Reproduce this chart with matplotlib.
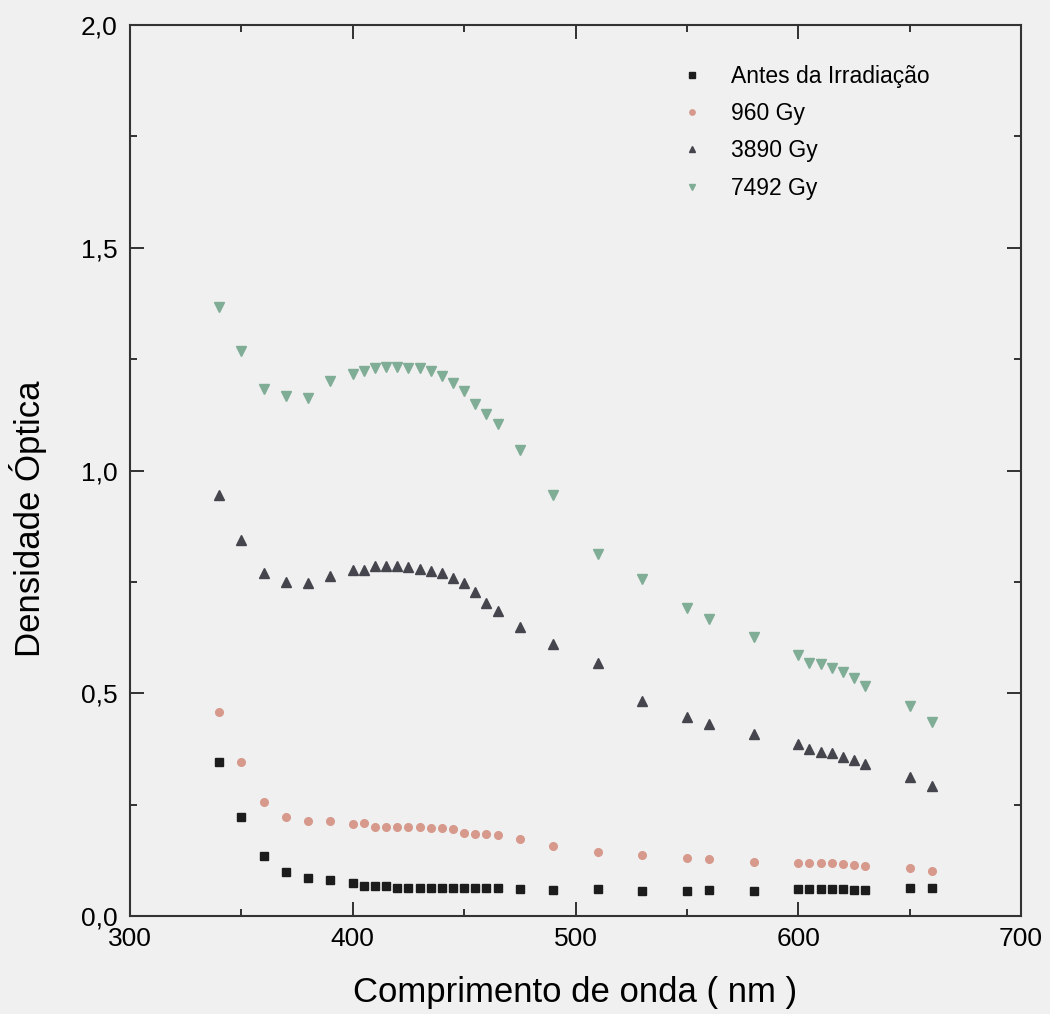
import matplotlib
matplotlib.use("Agg")
import matplotlib.pyplot as plt
from matplotlib.ticker import MultipleLocator, FuncFormatter

plt.rcParams['font.family'] = ['Liberation Sans', 'DejaVu Sans']

# comprimentos de onda medidos (nm)
wavelength = [340, 350, 360, 370, 380, 390, 400, 405, 410, 415, 420, 425,
              430, 435, 440, 445, 450, 455, 460, 465, 475, 490, 510, 530,
              550, 560, 580, 600, 605, 610, 615, 620, 625, 630, 650, 660]

antes = [0.346, 0.222, 0.135, 0.099, 0.086, 0.080, 0.074, 0.067, 0.067, 0.067,
         0.063, 0.063, 0.063, 0.063, 0.063, 0.063, 0.063, 0.063, 0.063, 0.063,
         0.061, 0.058, 0.060, 0.057, 0.057, 0.058, 0.057, 0.060, 0.060, 0.060,
         0.060, 0.060, 0.058, 0.058, 0.063, 0.062]

gy960 = [0.458, 0.346, 0.256, 0.222, 0.213, 0.213, 0.206, 0.208, 0.200, 0.200,
         0.200, 0.200, 0.200, 0.197, 0.197, 0.195, 0.187, 0.184, 0.184, 0.182,
         0.174, 0.157, 0.144, 0.137, 0.130, 0.128, 0.121, 0.119, 0.119, 0.119,
         0.118, 0.117, 0.115, 0.113, 0.108, 0.101]

gy3890 = [0.945, 0.844, 0.770, 0.750, 0.747, 0.763, 0.777, 0.777, 0.786, 0.786,
          0.786, 0.783, 0.780, 0.775, 0.770, 0.759, 0.747, 0.728, 0.702, 0.685,
          0.649, 0.610, 0.568, 0.483, 0.447, 0.431, 0.408, 0.386, 0.375, 0.368,
          0.366, 0.357, 0.350, 0.341, 0.312, 0.292]

gy7492 = [1.367, 1.268, 1.183, 1.167, 1.163, 1.200, 1.217, 1.223, 1.230, 1.232,
          1.232, 1.231, 1.230, 1.223, 1.212, 1.196, 1.178, 1.149, 1.127, 1.104,
          1.046, 0.945, 0.813, 0.756, 0.691, 0.667, 0.626, 0.586, 0.568, 0.566,
          0.557, 0.548, 0.534, 0.516, 0.471, 0.435]

labels = ["Antes da Irradiação", "960 Gy", "3890 Gy", "7492 Gy"]

bg = "#f0f0f0"
fig = plt.figure(figsize=(10.5, 10.14), dpi=100, facecolor=bg)
ax = fig.add_axes([0.1238, 0.0966, 0.8486, 0.8787], facecolor=bg)

ax.plot(wavelength, antes, ls="none", marker="s", ms=5.5, color="#1c1c1c", label=labels[0])
ax.plot(wavelength, gy960, ls="none", marker="o", ms=5.5, color="#d6998b", label=labels[1])
ax.plot(wavelength, gy3890, ls="none", marker="^", ms=7, color="#45454e", label=labels[2])
ax.plot(wavelength, gy7492, ls="none", marker="v", ms=7, color="#80ad96", label=labels[3])

ax.set_xlim(300, 700)
ax.set_ylim(0, 2.0)
ax.xaxis.set_major_locator(MultipleLocator(100))
ax.xaxis.set_minor_locator(MultipleLocator(50))
ax.yaxis.set_major_locator(MultipleLocator(0.5))
ax.yaxis.set_minor_locator(MultipleLocator(0.25))
ax.yaxis.set_major_formatter(FuncFormatter(lambda v, p: f"{v:.1f}".replace(".", ",")))

ax.tick_params(which="both", direction="in", top=True, right=True,
               color="#222222", width=1.3, labelsize=19)
ax.tick_params(axis="x", pad=8)
ax.tick_params(axis="y", pad=9)
ax.tick_params(which="major", length=10)
ax.tick_params(which="minor", length=5)
for s in ax.spines.values():
    s.set_color("#333333")
    s.set_linewidth(1.5)

ax.set_xlabel("Comprimento de onda ( nm )", fontsize=25, labelpad=18)
ax.set_ylabel("Densidade Óptica", fontsize=25)
ax.yaxis.set_label_coords(-0.093, 0.446)

ax.legend(loc="upper left", bbox_to_anchor=(0.605, 0.968), frameon=False,
          fontsize=16.5, handlelength=1.0, handletextpad=1.2, labelspacing=0.62,
          markerscale=0.7, borderpad=0)

fig.savefig("out.png", dpi=100, facecolor=bg)
